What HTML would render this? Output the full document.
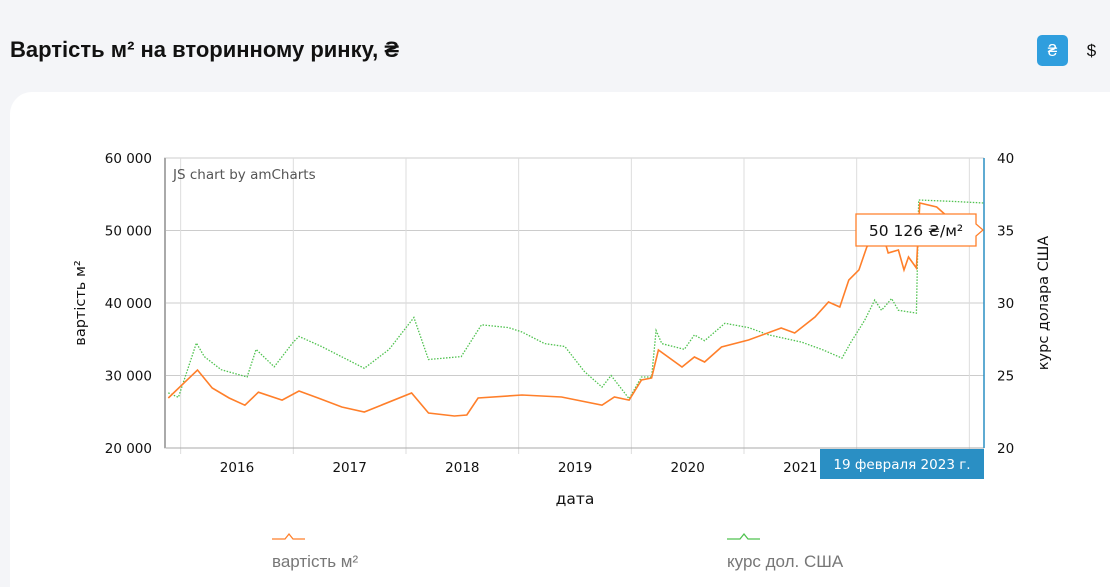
<!DOCTYPE html>
<html><head><meta charset="utf-8"><style>
html,body{margin:0;width:1110px;height:587px;overflow:hidden}
body{background:#f4f5f8;font-family:"Liberation Sans",sans-serif;position:relative}
.title{position:absolute;left:10px;top:37px;font-size:22px;font-weight:bold;color:#111}
.btn{position:absolute;top:35px;width:31px;height:31px;border-radius:5px;text-align:center;line-height:31px;font-size:17px}
.card{position:absolute;left:10px;top:92px;width:1100px;height:495px;background:#fff;border-radius:22px 0 0 0}
svg{position:absolute;left:0;top:0;font-family:"DejaVu Sans",sans-serif}
</style></head><body>
<div class="title">Вартість м² на вторинному ринку, ₴</div>
<div class="btn" style="left:1037px;background:#2f9ede;color:#fff">₴</div>
<div class="btn" style="left:1076px;color:#111">$</div>
<div class="card"></div>
<svg id="chart" width="1110" height="587"></svg>
<script>
const yearTicks=[2016,2017,2018,2019,2020,2021,2022,2023];
const yearLabels=["2016","2017","2018","2019","2020","2021"];
const leftTicks=[20000,30000,40000,50000,60000];
const rightTicks=[20,25,30,35,40];
const priceDates=[2015.89,2016.15,2016.28,2016.43,2016.57,2016.69,2016.90,2017.05,2017.22,2017.43,2017.63,2017.78,2018.05,2018.20,2018.43,2018.54,2018.64,2019.03,2019.38,2019.74,2019.85,2019.98,2020.09,2020.18,2020.24,2020.45,2020.56,2020.65,2020.80,2021.04,2021.33,2021.45,2021.63,2021.75,2021.85,2021.93,2022.02,2022.09,2022.22,2022.28,2022.37,2022.42,2022.46,2022.53,2022.56,2022.71,2022.87,2023.11];
const priceValues=[26900,30760,28280,26900,25900,27700,26600,27860,26900,25660,24970,25900,27590,24830,24410,24550,26900,27310,27030,25900,27030,26600,29380,29650,33520,31170,32550,31860,33930,34900,36550,35860,38070,40140,39450,43170,44550,47720,50070,46900,47310,44550,46340,44830,53790,53240,51030,50070];
const usdDates=[2015.89,2015.98,2016.14,2016.21,2016.36,2016.59,2016.67,2016.83,2017.0,2017.05,2017.25,2017.63,2017.85,2018.07,2018.20,2018.49,2018.67,2018.91,2019.03,2019.23,2019.41,2019.58,2019.74,2019.82,2019.98,2020.09,2020.18,2020.22,2020.27,2020.47,2020.56,2020.65,2020.83,2021.04,2021.22,2021.51,2021.69,2021.87,2021.95,2022.07,2022.16,2022.22,2022.31,2022.37,2022.53,2022.55,2022.87,2023.13];
const usdValues=[23.8,23.5,27.24,26.3,25.4,24.9,26.8,25.6,27.3,27.7,27.0,25.5,26.8,29.0,26.1,26.3,28.5,28.3,28.0,27.2,27.0,25.3,24.2,25.0,23.4,24.9,24.9,28.1,27.2,26.8,27.8,27.4,28.6,28.3,27.8,27.3,26.8,26.2,27.3,28.8,30.2,29.5,30.3,29.5,29.3,37.1,37.0,36.9];
const L=166,R=984,T=158,B=448,D0=2015.87,D1=2023.13;
const X=d=>L+(d-D0)/(D1-D0)*(R-L);
const YL=v=>B-(v-20000)/40000*(B-T);
const YR=v=>B-(v-20)/20*(B-T);
const svg=document.getElementById('chart');const NS='http://www.w3.org/2000/svg';
function el(tag,attrs,txt){const e=document.createElementNS(NS,tag);for(const k in attrs)e.setAttribute(k,attrs[k]);if(txt!==undefined)e.textContent=txt;svg.appendChild(e);return e;}
const fmt=v=>String(v).replace(/\B(?=(\d{3})+(?!\d))/g,' ');
leftTicks.forEach(v=>{
 const g=el('line',{x1:L-2,x2:R,y1:YL(v),y2:YL(v),stroke:'#ccc'});
 
 const t=el('text',{x:152,y:YL(v)+5,'text-anchor':'end','font-size':13.5,fill:'#111'},fmt(v));
 
});
rightTicks.forEach(v=>{
 const t=el('text',{x:997,y:YR(v)+5,'font-size':13.5,fill:'#111'},String(v));
 
});
yearTicks.forEach(d=>{
 const g=el('line',{x1:X(d),x2:X(d),y1:T,y2:B+6,stroke:'#ddd'});
 
});
yearLabels.forEach(s=>{
 const t=el('text',{x:X(+s+0.5),y:472,'text-anchor':'middle','font-size':13.5,fill:'#111'},s);
 
});
const ax=el('line',{x1:L-1,x2:L-1,y1:T,y2:B,stroke:'#aaa','stroke-width':2});

const bx=el('line',{x1:L,x2:R,y1:B,y2:B,stroke:'#aaa'});

const cr=el('text',{x:173,y:179,'font-size':13.5,fill:'#555'},'JS chart by amCharts');

function linePath(ds,vs,Y){return ds.map((d,i)=>(i?'L':'M')+X(d).toFixed(1)+','+Y(vs[i]).toFixed(1)).join(' ');}
const gl=el('path',{d:linePath(usdDates,usdValues,YR),fill:'none',stroke:'#4fc24f','stroke-width':1.3,'stroke-dasharray':'1.5,1.5'});

const ol=el('path',{d:linePath(priceDates,priceValues,YL),fill:'none',stroke:'#ff7f2a','stroke-width':1.6});

const cur=el('line',{x1:R,x2:R,y1:T,y2:B,stroke:'#2a8fc4','stroke-width':1.5});

const tb=el('path',{d:'M856,214 H976 V224 L983,230 L976,236 V246 H856 Z',fill:'#fff',stroke:'#ff7f2a','stroke-width':1.3});

const tt=el('text',{x:916,y:236,'text-anchor':'middle','font-size':15.5,fill:'#111'},'50 126 ₴/м²');

const cb=el('rect',{x:820,y:449,width:164,height:30,fill:'#2a8fc4'});

const ct=el('text',{x:902,y:469,'text-anchor':'middle','font-size':13.5,fill:'#fff'},'19 февраля 2023 г.');

const yl=el('text',{transform:'translate(85,303) rotate(-90)','text-anchor':'middle','font-size':14.5,fill:'#111'},'вартість м²');

const yr=el('text',{transform:'translate(1048,303) rotate(-90)','text-anchor':'middle','font-size':14.5,fill:'#111'},'курс долара США');

const xl=el('text',{x:575,y:504,'text-anchor':'middle','font-size':15.5,fill:'#111'},'дата');

const lo=el('path',{d:'M272,539 H285 L289,534 L293,539 H305',fill:'none',stroke:'#ff7f2a','stroke-width':1.3});

const lot=el('text',{x:272,y:567,'font-size':17,fill:'#777','font-family':'Liberation Sans, sans-serif'},'вартість м²');

const lg=el('path',{d:'M727,539 H740 L744,534 L748,539 H760',fill:'none',stroke:'#4fc24f','stroke-width':1.3});

const lgt=el('text',{x:727,y:567,'font-size':17,fill:'#777','font-family':'Liberation Sans, sans-serif'},'курс дол. США');

</script>
</body></html>
